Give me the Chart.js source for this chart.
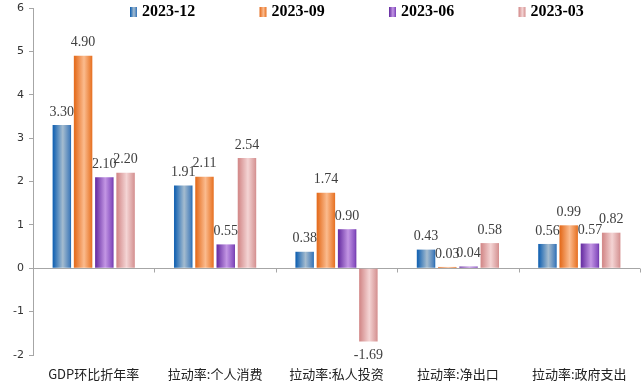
<!DOCTYPE html>
<html><head><meta charset="utf-8">
<script src="https://cdn.jsdelivr.net/npm/chart.js@4.4.0/dist/chart.umd.min.js"></script>
<style>html,body{margin:0;padding:0;background:#fff}#wrap{width:643px;height:382px;position:relative}</style>
</head><body><div id="wrap"><canvas id="c"></canvas></div>
<script>
const categories = ['GDP环比折年率','拉动率:个人消费','拉动率:私人投资','拉动率:净出口','拉动率:政府支出'];
const seriesNames = ['2023-12','2023-09','2023-06','2023-03'];
const s202312 = [3.30, 1.91, 0.38, 0.43, 0.56];
const s202309 = [4.90, 2.11, 1.74, 0.03, 0.99];
const s202306 = [2.10, 0.55, 0.90, 0.04, 0.57];
const s202303 = [2.20, 2.54, -1.69, 0.58, 0.82];
const yMin = -2, yMax = 6, yStep = 1;

const palettes = [
  ['#1a66b3', '#a5bccf', '#4a80bb'],
  ['#e56f22', '#fbbb8e', '#ea7d33'],
  ['#6c34a6', '#c396e4', '#8750c0'],
  ['#d48c8c', '#f4d4d4', '#d99c9c']
];

function grad(ctx, pal, x0, x1) {
  const g = ctx.createLinearGradient(x0, 0, x1, 0);
  g.addColorStop(0, pal[0]);
  g.addColorStop(0.06, pal[0]);
  g.addColorStop(0.55, pal[1]);
  g.addColorStop(0.92, pal[2]);
  g.addColorStop(1, pal[0]);
  return g;
}

function barColor(i) {
  return (c) => {
    const el = c.element;
    if (!el || el.x == null || !el.width || isNaN(el.x)) return palettes[i][0];
    return grad(c.chart.ctx, palettes[i], el.x - el.width / 2, el.x + el.width / 2);
  };
}

const seriesData = [s202312, s202309, s202306, s202303];

const deco = {
  id: 'deco',
  afterDatasetsDraw(chart) {
    const ctx = chart.ctx;
    ctx.save();
    ctx.font = '14px "Liberation Serif"';
    ctx.fillStyle = '#404040';
    ctx.textAlign = 'center';
    ctx.textBaseline = 'middle';
    chart.data.datasets.forEach((ds, di) => {
      const meta = chart.getDatasetMeta(di);
      meta.data.forEach((el, i) => {
        const v = ds.data[i];
        const y = v >= 0 ? el.y - 13 : el.y + 14;
        ctx.fillText(v.toFixed(2), el.x, y);
      });
    });
    const xs = chart.scales.x, ys = chart.scales.y;
    const y0 = Math.round(ys.getPixelForValue(0)) + 0.5;
    ctx.strokeStyle = '#a6a6a6';
    ctx.lineWidth = 1;
    for (let i = 0; i < categories.length; i++) {
      const xb = i < categories.length - 1
        ? (xs.getPixelForValue(i) + xs.getPixelForValue(i + 1)) / 2
        : chart.chartArea.right;
      ctx.beginPath();
      ctx.moveTo(Math.round(xb) + 0.5, y0);
      ctx.lineTo(Math.round(xb) + 0.5, y0 + 4);
      ctx.stroke();
    }
    ctx.restore();
  },
  afterDraw(chart) {
    const ctx = chart.ctx;
    ctx.save();
    ctx.font = 'bold 16px "Liberation Serif"';
    ctx.fillStyle = '#000';
    ctx.textAlign = 'left';
    ctx.textBaseline = 'middle';
    const startX = 130, step = 129.5, cy = 12;
    chart.data.datasets.forEach((ds, i) => {
      const x = startX + i * step;
      ctx.fillStyle = grad(ctx, palettes[i], x, x + 7);
      ctx.fillRect(x, cy - 5, 7, 10);
      ctx.fillStyle = '#000';
      ctx.fillText(ds.label, x + 12, cy);
    });
    ctx.restore();
  }
};

const chart = new Chart(document.getElementById('c'), {
  type: 'bar',
  data: {
    labels: categories,
    datasets: seriesNames.map((n, i) => ({
      label: n,
      data: seriesData[i],
      backgroundColor: barColor(i),
      borderWidth: 0,
      categoryPercentage: 0.7,
      barPercentage: 0.87
    }))
  },
  options: {
    responsive: true,
    maintainAspectRatio: false,
    devicePixelRatio: 1,
    animation: false,
    layout: { padding: { top: 8, right: 3, left: 0, bottom: 0 } },
    plugins: { legend: { display: false }, tooltip: { enabled: false } },
    scales: {
      x: {
        grid: { display: false },
        border: { display: false },
        ticks: {
          font: { family: '"Noto Sans CJK SC"', size: 13 },
          color: '#222',
          padding: 3,
          maxRotation: 0,
          autoSkip: false
        },
        afterFit(s) { s.height = 27; s.paddingLeft = 0; s.paddingRight = 0; }
      },
      y: {
        min: yMin,
        max: yMax,
        ticks: {
          stepSize: yStep,
          font: { family: '"DejaVu Sans"', size: 11 },
          color: '#333',
          padding: 5
        },
        grid: {
          color: (c) => (c.tick && c.tick.value === 0) ? '#a6a6a6' : 'rgba(0,0,0,0)',
          tickColor: '#a6a6a6',
          tickLength: 4,
          drawOnChartArea: true
        },
        border: { display: true, color: '#a6a6a6' },
        afterFit(s) { s.width = 33; s.paddingTop = 0; s.paddingBottom = 0; }
      }
    }
  },
  plugins: [deco]
});
chart.update('none');
</script>
</body></html>
